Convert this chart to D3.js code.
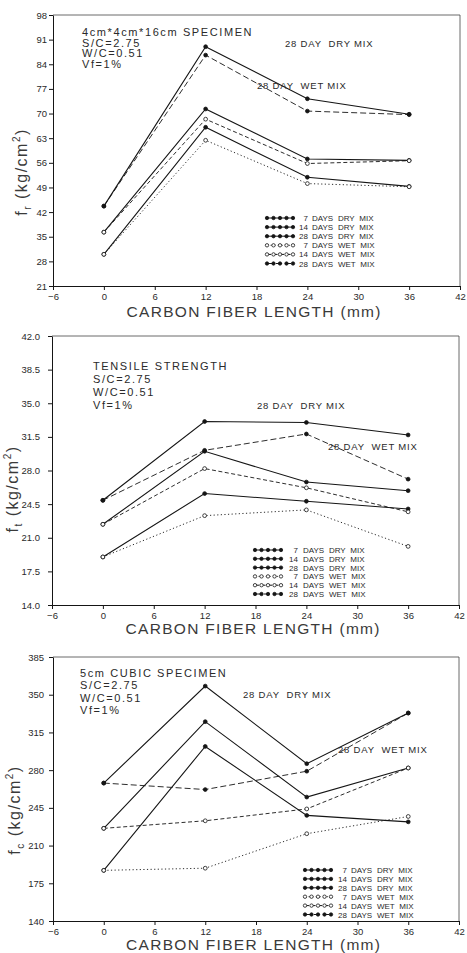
<!DOCTYPE html>
<html><head><meta charset="utf-8">
<script src="https://cdn.jsdelivr.net/npm/d3@7"></script>
<style>
html,body{margin:0;padding:0;background:#fff;}
svg{display:block;font-family:"Liberation Sans",Arial,sans-serif;}
</style></head><body>
<svg id="chart" width="467" height="953"></svg>
<script>
// ---- data ----
const fiberLength = [0, 12, 24, 36];
const xTicks = [-6, 0, 6, 12, 18, 24, 30, 36, 42];
const seriesAges = ["7", "14", "28", "7", "14", "28"];
const seriesMix = ["DRY", "DRY", "DRY", "WET", "WET", "WET"];

const flexuralValues = [
  [30.0, 66.1, 51.9, 49.3],
  [36.3, 71.3, 57.1, 56.7],
  [43.7, 89.0, 74.2, 69.8],
  [30.0, 62.4, 50.1, 49.2],
  [36.3, 68.4, 55.8, 56.6],
  [43.7, 86.6, 70.7, 69.7]
];
const flexuralTicks = [21, 28, 35, 42, 49, 56, 63, 70, 77, 84, 91, 98];

const tensileValues = [
  [19.0, 25.6, 24.8, 24.0],
  [22.4, 30.0, 26.8, 25.9],
  [24.9, 33.1, 33.0, 31.7],
  [19.0, 23.3, 23.9, 20.1],
  [22.4, 28.2, 26.2, 23.7],
  [24.9, 30.1, 31.8, 27.1]
];
const tensileTicks = [14.0, 17.5, 21.0, 24.5, 28.0, 31.5, 35.0, 38.5, 42.0];

const compressiveValues = [
  [187, 302, 238, 232],
  [226, 325, 255, 282],
  [268, 358, 286, 333],
  [187, 189, 221, 237],
  [226, 233, 244, 282],
  [268, 262, 279, 333]
];
const compressiveTicks = [140, 175, 210, 245, 280, 315, 350, 385];

const xTitle = "CARBON FIBER LENGTH (mm)";
const flexuralNotes = ["4cm*4cm*16cm SPECIMEN", "S/C=2.75", "W/C=0.51", "Vf=1%"];
const tensileNotes = ["TENSILE STRENGTH", "S/C=2.75", "W/C=0.51", "Vf=1%"];
const compressiveNotes = ["5cm CUBIC SPECIMEN", "S/C=2.75", "W/C=0.51", "Vf=1%"];
const dryLabel = "28 DAY  DRY MIX";
const wetLabel = "28 DAY  WET MIX";

// ---- styles per series ----
const dashes = [null, null, null, "1.2,2.4", "4,2.5", "6,3"];
const openMarker = [false, false, false, true, true, false];

// ---- layout ----
const panels = [
  { values: flexuralValues, ticks: flexuralTicks, fmt: d3.format("d"), sub: "r",
    left: 53, right: 460, top: 15, bottom: 286, pad: 2,
    yTitle: [21, 172], xTitleY: 317,
    notes: flexuralNotes, notesX: 82, notesY: 36, notesGap: 10.5,
    dry: [285, 47], wet: [257, 89],
    legX: 267, legNum: 308, legY: 218, legGap: 9.1, legDays: 312 },
  { values: tensileValues, ticks: tensileTicks, fmt: d3.format(".1f"), sub: "t",
    left: 52, right: 459, top: 336, bottom: 605, pad: 8,
    yTitle: [12, 489], xTitleY: 634,
    notes: tensileNotes, notesX: 93, notesY: 370, notesGap: 13,
    dry: [257, 409], wet: [328, 450],
    legX: 255, legNum: 298, legY: 550, legGap: 8.8, legDays: 303 },
  { values: compressiveValues, ticks: compressiveTicks, fmt: d3.format("d"), sub: "c",
    left: 53, right: 459, top: 657, bottom: 921, pad: 5,
    yTitle: [14, 810], xTitleY: 950,
    notes: compressiveNotes, notesX: 80, notesY: 677, notesGap: 12.4,
    dry: [243, 698], wet: [338, 753],
    legX: 305, legNum: 347, legY: 870, legGap: 8.9, legDays: 351 }
];

const svg = d3.select("#chart");
const ink = "#151515";
const textInk = "#2a2a2a";

panels.forEach(p => {
  const x = d3.scaleLinear().domain([-6, 42]).range([p.left, p.right]);
  const y = d3.scaleLinear().domain([p.ticks[0], p.ticks[p.ticks.length - 1]]).range([p.bottom, p.top]);
  const g = svg.append("g");

  // frame (top & right)
  g.append("path")
    .attr("d", `M${p.left},${p.top}H${p.right}V${p.bottom}`)
    .attr("fill", "none").attr("stroke", "#444").attr("stroke-width", 0.8);

  // axes
  const xa = g.append("g").attr("transform", `translate(0,${p.bottom})`)
    .call(d3.axisBottom(x).tickValues(xTicks).tickSize(4).tickSizeOuter(0).tickPadding(3).tickFormat(d3.format("d")));
  const ya = g.append("g").attr("transform", `translate(${p.left},0)`)
    .call(d3.axisLeft(y).tickValues(p.ticks).tickSize(4).tickSizeOuter(0).tickPadding(p.pad).tickFormat(p.fmt));
  [xa, ya].forEach(a => {
    a.selectAll("path,line").attr("stroke", ink).attr("stroke-width", 1);
    a.selectAll("text").attr("fill", textInk).attr("font-size", 9.5).attr("font-family", "Liberation Sans, Arial, sans-serif");
  });

  // axis titles
  g.append("text").attr("x", (p.left + p.right) / 2 - 3).attr("y", p.xTitleY)
    .attr("text-anchor", "middle").attr("font-size", 15.5).attr("fill", "#3a3a3a")
    .attr("textLength", 254).attr("lengthAdjust", "spacing").text(xTitle);

  const yt = g.append("text").attr("transform", `translate(${p.yTitle[0]},${p.yTitle[1]}) rotate(-90)`)
    .attr("text-anchor", "middle").attr("font-size", 16).attr("fill", "#3a3a3a").attr("dy", "0.35em")
    .attr("letter-spacing", 1.5);
  yt.append("tspan").text("f");
  yt.append("tspan").attr("font-size", 10).attr("dy", 4).text(p.sub);
  yt.append("tspan").attr("dy", -4).text(" (kg/cm");
  yt.append("tspan").attr("font-size", 10).attr("dy", -7).text("2");
  yt.append("tspan").attr("dy", 7).text(")");

  // series lines
  const line = d3.line().x((d, i) => x(fiberLength[i])).y(d => y(d));
  p.values.forEach((vals, s) => {
    g.append("path").datum(vals).attr("d", line)
      .attr("fill", "none").attr("stroke", ink).attr("stroke-width", s < 3 ? 1.1 : 0.9)
      .attr("stroke-dasharray", dashes[s]);
    g.selectAll(null).data(vals).enter().append("circle")
      .attr("cx", (d, i) => x(fiberLength[i])).attr("cy", d => y(d)).attr("r", 1.9)
      .attr("fill", openMarker[s] ? "#fff" : ink).attr("stroke", ink).attr("stroke-width", 0.8);
  });

  // notes
  p.notes.forEach((t, i) => {
    g.append("text").attr("x", p.notesX).attr("y", p.notesY + i * p.notesGap)
      .attr("font-size", 11).attr("letter-spacing", 1.6).attr("fill", textInk).text(t);
  });
  g.append("text").attr("x", p.dry[0]).attr("y", p.dry[1]).attr("font-size", 9.5)
    .attr("letter-spacing", 0.8).attr("fill", textInk).style("white-space", "pre").text(dryLabel);
  g.append("text").attr("x", p.wet[0]).attr("y", p.wet[1]).attr("font-size", 9.5)
    .attr("letter-spacing", 0.8).attr("fill", textInk).style("white-space", "pre").text(wetLabel);

  // legend
  seriesAges.forEach((age, s) => {
    const ly = p.legY + s * p.legGap;
    const lx = d3.range(5).map(k => p.legX + k * 6.5);
    g.append("line").attr("x1", lx[0]).attr("x2", lx[4]).attr("y1", ly).attr("y2", ly)
      .attr("stroke", ink).attr("stroke-width", 1).attr("stroke-dasharray", dashes[s]);
    lx.forEach(cx => g.append("circle").attr("cx", cx).attr("cy", ly).attr("r", 1.7)
      .attr("fill", openMarker[s] ? "#fff" : ink).attr("stroke", ink).attr("stroke-width", 0.8));
    g.append("text").attr("x", p.legNum).attr("y", ly + 3).attr("text-anchor", "end")
      .attr("font-size", 8).attr("fill", textInk).text(age);
    g.append("text").attr("x", p.legDays).attr("y", ly + 3)
      .attr("font-size", 8).attr("fill", textInk).attr("word-spacing", 2.5)
      .text("DAYS " + seriesMix[s] + " MIX");
  });
});
</script>
</body></html>
